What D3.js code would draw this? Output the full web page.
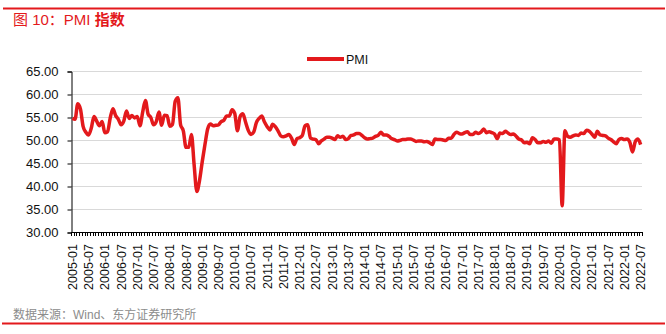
<!DOCTYPE html>
<html>
<head>
<meta charset="utf-8">
<script src="https://cdn.jsdelivr.net/npm/d3@7"></script>
<style>
	body { margin: 0; background: #fff; }
	svg { display: block; font-family: Arial, "Liberation Sans", "Noto Sans CJK SC", sans-serif; }
</style>
</head>
<body>
<script>
// NBS manufacturing PMI, monthly 2005-01 .. 2022-07
const years = d3.range(2005, 2023);
const pmi2005 = [54.7, 54.5, 57.9, 56.7, 52.9, 51.7, 51.1, 52.6, 55.1, 54.1, 53.1, 54.0];
const pmi2006 = [51.6, 51.8, 54.8, 56.8, 55.3, 54.5, 53.3, 54.1, 56.3, 54.7, 55.3, 54.8];
const pmi2007 = [55.1, 53.1, 56.1, 58.6, 55.6, 54.9, 53.3, 54.0, 56.1, 53.2, 55.4, 55.3];
const pmi2008 = [53.0, 53.4, 58.4, 59.2, 53.3, 52.0, 48.4, 48.4, 51.2, 44.6, 38.8, 41.2];
const pmi2009 = [45.3, 49.0, 52.4, 53.5, 53.1, 53.2, 53.3, 54.0, 54.3, 55.2, 55.2, 56.6];
const pmi2010 = [55.8, 52.0, 55.1, 55.7, 53.9, 52.1, 51.2, 51.7, 53.8, 54.7, 55.2, 53.9];
const pmi2011 = [52.9, 52.2, 53.4, 52.9, 52.0, 50.9, 50.7, 50.9, 51.2, 50.4, 49.0, 50.3];
const pmi2012 = [50.5, 51.0, 53.1, 53.3, 50.4, 50.2, 50.1, 49.2, 49.8, 50.2, 50.6, 50.6];
const pmi2013 = [50.4, 50.1, 50.9, 50.6, 50.8, 50.1, 50.3, 51.0, 51.1, 51.4, 51.4, 51.0];
const pmi2014 = [50.5, 50.2, 50.3, 50.4, 50.8, 51.0, 51.7, 51.1, 51.1, 50.8, 50.3, 50.1];
const pmi2015 = [49.8, 49.9, 50.1, 50.1, 50.2, 50.2, 50.0, 49.7, 49.8, 49.8, 49.6, 49.7];
const pmi2016 = [49.4, 49.0, 50.2, 50.1, 50.1, 50.0, 49.9, 50.4, 50.4, 51.2, 51.7, 51.4];
const pmi2017 = [51.3, 51.6, 51.8, 51.2, 51.2, 51.7, 51.4, 51.7, 52.4, 51.6, 51.8, 51.6];
const pmi2018 = [51.3, 50.3, 51.5, 51.4, 51.9, 51.5, 51.2, 51.3, 50.8, 50.2, 50.0, 49.4];
const pmi2019 = [49.5, 49.2, 50.5, 50.1, 49.4, 49.4, 49.7, 49.5, 49.8, 49.3, 50.2, 50.2];
const pmi2020 = [50.0, 35.7, 52.0, 50.8, 50.6, 50.9, 51.1, 51.0, 51.5, 51.4, 52.1, 51.9];
const pmi2021 = [51.3, 50.6, 51.9, 51.1, 51.0, 50.9, 50.4, 50.1, 49.6, 49.2, 50.1, 50.3];
const pmi2022 = [50.1, 50.2, 49.5, 47.4, 49.6, 50.2, 49.0];

const yTicks = [30, 35, 40, 45, 50, 55, 60, 65];

const series = [pmi2005, pmi2006, pmi2007, pmi2008, pmi2009, pmi2010, pmi2011, pmi2012, pmi2013,
	pmi2014, pmi2015, pmi2016, pmi2017, pmi2018, pmi2019, pmi2020, pmi2021, pmi2022];

const months = [];
const values = [];
series.forEach((arr, i) => {
	arr.forEach((v, m) => {
		months.push(`${years[i]}-${String(m + 1).padStart(2, "0")}`);
		values.push(v);
	});
});
const data = months.map((m, i) => ({ month: m, value: values[i] }));

const width = 666, height = 334;
const red = "#e3191c";

const svg = d3.select("body").append("svg")
	.attr("width", width)
	.attr("height", height);

// frame lines and title
svg.append("line").attr("x1", 3).attr("x2", 665).attr("y1", 8.5).attr("y2", 8.5)
	.attr("stroke", red).attr("stroke-width", 2);
svg.append("line").attr("x1", 2).attr("x2", 665).attr("y1", 323.5).attr("y2", 323.5)
	.attr("stroke", red).attr("stroke-width", 2);

const title = svg.append("text").attr("x", 13).attr("y", 25)
	.attr("fill", red).attr("font-size", 15);
title.append("tspan").text("图 10：PMI ");
title.append("tspan").attr("font-weight", "bold").text("指数");

svg.append("text").attr("x", 13).attr("y", 319)
	.attr("fill", "#8c8c8c").attr("font-size", 12)
	.text("数据来源：Wind、东方证券研究所");

// scales
const x = d3.scaleBand().domain(months).range([71, 642]);
const y = d3.scaleLinear().domain([30, 65]).range([232, 71]);

// gridlines
svg.append("g").selectAll("line")
	.data(yTicks.slice(1))
	.enter().append("line")
	.attr("x1", 71).attr("x2", 642)
	.attr("y1", d => y(d) + 0.5).attr("y2", d => y(d) + 0.5)
	.attr("stroke", "#d9d9d9").attr("stroke-width", 1);

// y axis
const yAxis = svg.append("g")
	.attr("transform", "translate(71.5,0.5)")
	.call(d3.axisLeft(y).tickValues(yTicks).tickSize(4).tickFormat(d3.format(".2f")));
yAxis.select(".domain").attr("stroke", "#000");
yAxis.selectAll("text").attr("font-size", 13).attr("fill", "#111").attr("x", -13)
	.attr("font-family", "Arial, 'Liberation Sans', sans-serif");

// x axis: month ticks at band edges, labels every 6 months
const xg = svg.append("g");
xg.append("line").attr("x1", 71).attr("x2", 642).attr("y1", 232.5).attr("y2", 232.5)
	.attr("stroke", "#000");
xg.selectAll("line.tick")
	.data(months.concat(["end"]))
	.enter().append("line")
	.attr("class", "tick")
	.attr("x1", d => Math.round(d === "end" ? x.range()[1] : x(d)) + 0.5)
	.attr("x2", d => Math.round(d === "end" ? x.range()[1] : x(d)) + 0.5)
	.attr("y1", 232).attr("y2", 236)
	.attr("stroke", "#000").attr("stroke-width", 1);

const labelMonths = months.filter((m, i) => i % 6 === 0);
xg.selectAll("text")
	.data(labelMonths)
	.enter().append("text")
	.attr("transform", d => `translate(${x(d) + x.bandwidth() / 2 + 4.5},244) rotate(-90)`)
	.attr("text-anchor", "end")
	.attr("font-size", 12.5)
	.attr("fill", "#111")
	.text(d => d);

// line
const line = d3.line()
	.x(d => x(d.month) + x.bandwidth() / 2)
	.y(d => y(d.value))
	.curve(d3.curveMonotoneX);

svg.append("path")
	.datum(data)
	.attr("fill", "none")
	.attr("stroke", red)
	.attr("stroke-width", 3.5)
	.attr("stroke-linejoin", "round")
	.attr("d", line);

// legend
svg.append("line").attr("x1", 307).attr("x2", 344).attr("y1", 59).attr("y2", 59)
	.attr("stroke", red).attr("stroke-width", 4);
svg.append("text").attr("x", 346).attr("y", 64)
	.attr("font-size", 12.5).attr("fill", "#111").text("PMI");
</script>
</body>
</html>
